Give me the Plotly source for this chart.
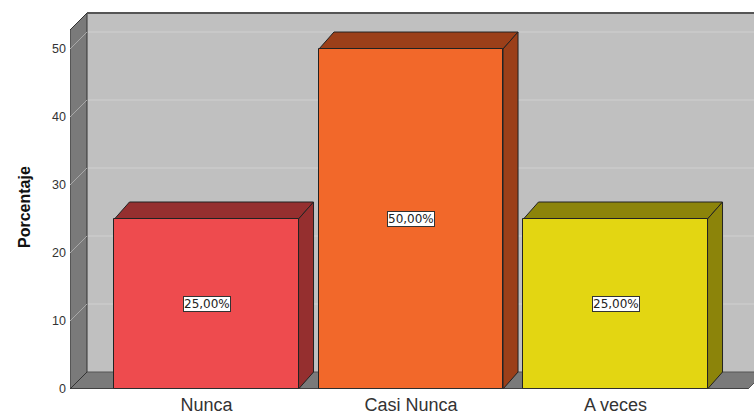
import plotly.graph_objects as go

# Data
categories = ["Nunca", "Casi Nunca", "A veces"]
percentages = [25.0, 50.0, 25.0]
y_ticks = [0, 10, 20, 30, 40, 50]

# Bar colours: front face and the darker top/side faces
front_colors = ["#EE4B4E", "#F2682A", "#E3D612"]
shade_colors = ["#952F2F", "#9B3F19", "#8C840A"]

# Geometry (pixels) used to build the pseudo-3D frame
W, H = 754, 416
M_L, M_R, M_T, M_B = 70, 0, 8, 27
PLOT_W = W - M_L - M_R
PLOT_H = H - M_T - M_B
PX_PER_Y = 6.8          # pixels per percentage point
PX_PER_CAT = 204.5      # pixels between category centres
FIRST_CENTER_PX = 206.5 - M_L

y_max = PLOT_H / PX_PER_Y
x_lo = -FIRST_CENTER_PX / PX_PER_CAT
x_hi = x_lo + PLOT_W / PX_PER_CAT


def dx(px):
    return px / PX_PER_CAT


def dy(px):
    return px / PX_PER_Y


WALL_DX, WALL_DY = dx(17), dy(17)
BAR_DX, BAR_DY = dx(15), dy(17)
BAR_W = 0.9
FRONT_TOP = dy(389 - 30)           # top of the front frame edge
FRONT_RIGHT = x_lo + dx(748 - M_L)  # right end of the front floor edge

WALL_LIGHT = "#C0C0C0"
WALL_DARK = "#7A7A7A"
EDGE = "#333333"
GRID = "#D0D0D0"
FONT = "Liberation Sans, Arial"


def path(points):
    return "M " + " L ".join(f"{x},{y}" for x, y in points) + " Z"


shapes = []
# back wall
shapes.append(dict(type="rect", xref="x", yref="y",
                   x0=x_lo + WALL_DX, x1=x_hi + 1, y0=WALL_DY, y1=FRONT_TOP + WALL_DY,
                   fillcolor=WALL_LIGHT, line=dict(width=0), layer="below"))
# grid lines on the back wall
for t in y_ticks[1:]:
    shapes.append(dict(type="line", xref="x", yref="y",
                       x0=x_lo + WALL_DX, x1=x_hi + 1, y0=t + WALL_DY, y1=t + WALL_DY,
                       line=dict(color=GRID, width=1), layer="below"))
# floor
shapes.append(dict(type="path", xref="x", yref="y",
                   path=path([(x_lo, 0), (FRONT_RIGHT, 0),
                              (FRONT_RIGHT + WALL_DX, WALL_DY), (x_lo + WALL_DX, WALL_DY)]),
                   fillcolor=WALL_DARK, line=dict(color="#555555", width=1), layer="below"))
# left wall with the grid diagonals across it
shapes.append(dict(type="path", xref="x", yref="y",
                   path=path([(x_lo, 0), (x_lo, FRONT_TOP),
                              (x_lo + WALL_DX, FRONT_TOP + WALL_DY), (x_lo + WALL_DX, WALL_DY)]),
                   fillcolor=WALL_DARK, line=dict(color=EDGE, width=1), layer="below"))
for t in y_ticks[1:]:
    shapes.append(dict(type="line", xref="x", yref="y",
                       x0=x_lo, x1=x_lo + WALL_DX, y0=t, y1=t + WALL_DY,
                       line=dict(color="#A8A8A8", width=1), layer="below"))
# top edge of the back wall
shapes.append(dict(type="line", xref="x", yref="y",
                   x0=x_lo + WALL_DX, x1=x_hi + 1, y0=FRONT_TOP + WALL_DY, y1=FRONT_TOP + WALL_DY,
                   line=dict(color="#555555", width=2), layer="below"))
# front floor edge
shapes.append(dict(type="line", xref="x", yref="y",
                   x0=x_lo, x1=FRONT_RIGHT, y0=0, y1=0,
                   line=dict(color=EDGE, width=1.5), layer="above"))

# top and side faces of each bar
for i, (v, shade) in enumerate(zip(percentages, shade_colors)):
    x0, x1 = i - BAR_W / 2, i + BAR_W / 2
    shapes.append(dict(type="path", xref="x", yref="y",
                       path=path([(x0, v), (x0 + BAR_DX, v + BAR_DY),
                                  (x1 + BAR_DX, v + BAR_DY), (x1, v)]),
                       fillcolor=shade, line=dict(color="#222222", width=1), layer="below"))
    shapes.append(dict(type="path", xref="x", yref="y",
                       path=path([(x1, 0), (x1, v), (x1 + BAR_DX, v + BAR_DY), (x1 + BAR_DX, BAR_DY)]),
                       fillcolor=shade, line=dict(color="#222222", width=1), layer="below"))

fig = go.Figure()
fig.add_trace(go.Bar(
    x=list(range(len(categories))), y=percentages, width=BAR_W,
    marker=dict(color=front_colors, line=dict(color="#222222", width=1)),
    hoverinfo="skip", showlegend=False,
))

annotations = []
for i, v in enumerate(percentages):
    annotations.append(dict(
        x=i, y=v / 2, xref="x", yref="y",
        text=f"{v:.2f}".replace(".", ",") + "%",
        showarrow=False, font=dict(size=12, color="#222222", family="DejaVu Sans"),
        bgcolor="white", bordercolor="#333333", borderwidth=1, borderpad=0,
    ))
annotations.append(dict(
    x=(24 - M_L) / PLOT_W, y=(H - M_B - 207) / PLOT_H, xref="paper", yref="paper",
    xanchor="center", yanchor="middle",
    text="<b>Porcentaje</b>", textangle=-90, showarrow=False,
    font=dict(size=16, color="#111111", family=FONT),
))

fig.update_layout(
    width=W, height=H,
    margin=dict(l=M_L, r=M_R, t=M_T, b=M_B, pad=0),
    paper_bgcolor="white", plot_bgcolor="white",
    font=dict(family=FONT, color="#333333"),
    shapes=shapes, annotations=annotations,
    bargap=0,
    xaxis=dict(range=[x_lo, x_hi], tickmode="array",
               tickvals=list(range(len(categories))), ticktext=categories,
               tickfont=dict(size=18, color="#333333"), ticklabelstandoff=3,
               showgrid=False, zeroline=False, showline=False, ticks="",
               fixedrange=True),
    yaxis=dict(range=[0, y_max], tickmode="array", tickvals=y_ticks,
               tickfont=dict(size=12.5, color="#333333"), ticklabelstandoff=3,
               showgrid=False, zeroline=False, showline=False, ticks="",
               fixedrange=True),
)

fig.write_html("out.html")
